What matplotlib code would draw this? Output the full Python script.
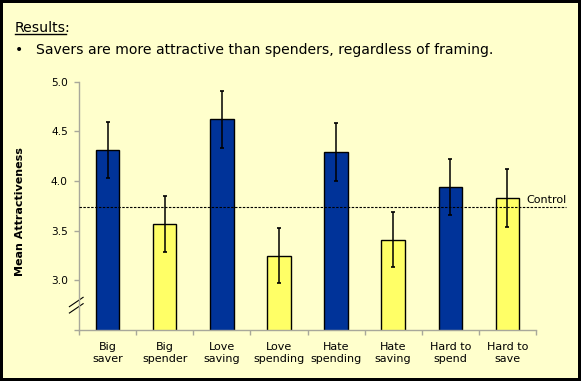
import matplotlib
matplotlib.use("Agg")
import matplotlib.pyplot as plt
import numpy as np
from matplotlib.patches import Rectangle
from matplotlib.lines import Line2D
import matplotlib.transforms as mtransforms

# datos
categorias = ["Big\nsaver", "Big\nspender", "Love\nsaving", "Love\nspending",
              "Hate\nspending", "Hate\nsaving", "Hard to\nspend", "Hard to\nsave"]
medias = [4.31, 3.57, 4.62, 3.25, 4.29, 3.41, 3.94, 3.83]
errores = [0.28, 0.28, 0.29, 0.28, 0.29, 0.28, 0.28, 0.29]
tipo = ["saver", "spender", "saver", "spender", "saver", "spender", "saver", "spender"]
control = 3.74
yticks = [2.5, 3.0, 3.5, 4.0, 4.5, 5.0]
ytick_labels = ["", "3.0", "3.5", "4.0", "4.5", "5.0"]

azul = "#003399"
amarillo = "#FFFF66"
fondo = "#FFFFCC"
gris = "#A8A89A"
colores = [azul if t == "saver" else amarillo for t in tipo]

W, H = 581, 381
fig = plt.figure(figsize=(W / 100, H / 100), dpi=100, facecolor="black")
fig.patches.append(Rectangle((3 / W, 3 / H), (W - 6) / W, (H - 6) / H,
                             transform=fig.transFigure, facecolor=fondo,
                             edgecolor="none", zorder=-10))

ax = fig.add_axes([79 / W, (H - 330) / H, 457 / W, (330 - 81.7) / H])
ax.set_facecolor("none")

x = np.arange(len(categorias))
ax.bar(x, medias, width=0.41, color=colores, edgecolor="black", linewidth=1.0,
       zorder=2)
ax.errorbar(x, medias, yerr=errores, fmt="none", ecolor="black", elinewidth=1.1,
            capsize=1.6, capthick=1.2, zorder=3)

ax.set_xlim(-0.5, len(categorias) - 0.5)
ax.set_ylim(2.5, 5.0)

# linea de control
ax.axhline(control, xmin=0, xmax=(566 - 79) / 457, color="black", linewidth=0.8,
           linestyle=(0, (2.2, 1.3)), clip_on=False, zorder=4)
ax.text(7.34, control + 0.035, "Control", fontsize=8, ha="left", va="baseline")

for s in ["top", "right"]:
    ax.spines[s].set_visible(False)
for s in ["left", "bottom"]:
    ax.spines[s].set_color(gris)
    ax.spines[s].set_linewidth(1.0)

ax.set_yticks(yticks)
ax.set_yticklabels(ytick_labels)
ax.tick_params(axis="y", length=3.5, width=1.0, color=gris, labelsize=7.7, pad=4.5)

ax.set_xticks(np.arange(-0.5, len(categorias), 1.0))
ax.set_xticklabels([])
ax.tick_params(axis="x", which="major", length=3.5, width=1.0, color=gris)
ax.set_xticks(x, minor=True)
ax.set_xticklabels(categorias, minor=True, fontsize=8, linespacing=1.3)
ax.tick_params(axis="x", which="minor", length=0, pad=8.5)

ax.set_ylabel("Mean Attractiveness", fontsize=8, fontweight="bold")
ax.yaxis.set_label_coords(-0.118, 0.476)

# marcas de corte del eje
tr = mtransforms.blended_transform_factory(ax.transAxes, ax.transData)
for y0 in [2.735, 2.671]:
    ax.add_line(Line2D([-0.021, 0.009], [y0, y0 + 0.094], transform=tr,
                       color="black", linewidth=0.8, clip_on=False))

# encabezado
res = fig.text(15 / W, (H - 32.3) / H, "Results", fontsize=10.1, va="baseline")
fig.text(15 / W, (H - 32.3) / H, "Results:", fontsize=10.1, va="baseline")
res.set_alpha(0)
fig.text(15 / W, (H - 54) / H, "\u2022", fontsize=10.1, va="baseline")
fig.text(36 / W, (H - 54) / H,
         "Savers are more attractive than spenders, regardless of framing.",
         fontsize=10.1, va="baseline")

fig.canvas.draw()
bb = res.get_window_extent()
yl = (H - 34) / H
fig.lines.append(Line2D([bb.x0 / W, bb.x1 / W], [yl, yl], transform=fig.transFigure,
                        color="black", linewidth=1.0))

fig.savefig("out.png", dpi=100, facecolor=fig.get_facecolor())
